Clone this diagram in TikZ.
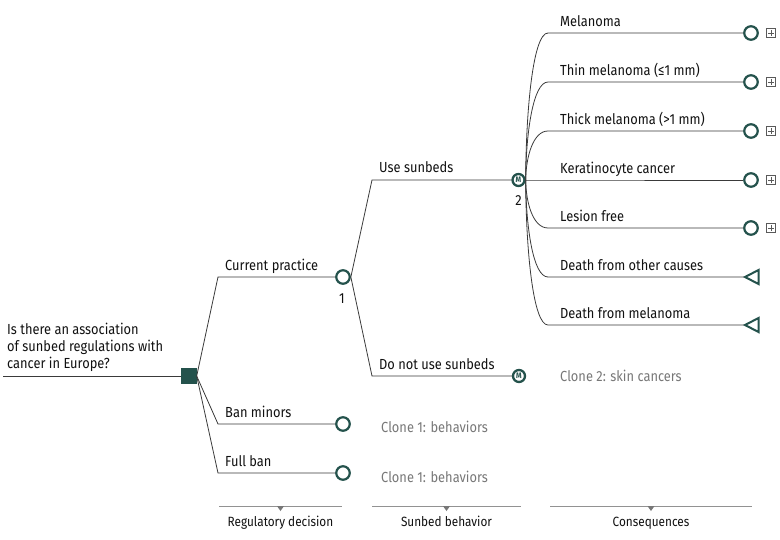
\documentclass[tikz,border=0pt]{standalone}
\usepackage{fontspec}
\setmainfont{Fira Sans}[FakeStretch=0.88]
\usetikzlibrary{calc}
\definecolor{nodeclr}{HTML}{24524C}
\definecolor{lineclr}{HTML}{3A3A3A}
\definecolor{txtclr}{HTML}{111111}
\definecolor{grayclr}{HTML}{777777}
\definecolor{plusclr}{HTML}{5A5A5A}
\begin{document}
\begin{tikzpicture}[x=1pt,y=-1pt,
  conn/.style={draw=lineclr, line width=0.8pt},
  chance/.style={circle, draw=nodeclr, fill=white, line width=2.2pt, minimum size=13.5pt, inner sep=0pt},
  markov/.style={circle, draw=nodeclr, fill=white, line width=2.3pt, minimum size=12pt, inner sep=0pt,
     font=\fontsize{8}{8}\selectfont\bfseries, text=nodeclr},
  decision/.style={rectangle, fill=nodeclr, minimum size=16pt, inner sep=0pt},
  termtri/.style={draw=nodeclr, line width=2pt, line join=miter, fill=white},
  plusbox/.style={draw=plusclr, line width=0.6pt, minimum size=9pt, inner sep=0pt,
     path picture={\draw[plusclr, line width=0.6pt]
       ([yshift=-1.8pt]path picture bounding box.north) -- ([yshift=1.8pt]path picture bounding box.south)
       ([xshift=1.8pt]path picture bounding box.west) -- ([xshift=-1.8pt]path picture bounding box.east);}},
  lbl/.style={anchor=base west, inner sep=0pt, text=txtclr, font=\fontsize{14.6}{17}\selectfont},
  clone/.style={anchor=base west, inner sep=0pt, text=grayclr, font=\fontsize{14.6}{17}\selectfont},
  axis/.style={draw=grayclr!80, line width=0.7pt},
  axtri/.style={fill=grayclr, draw=none},
  axlbl/.style={anchor=base, inner sep=0pt, text=txtclr, font=\fontsize{13.4}{15}\selectfont}
]
\useasboundingbox (0,0) rectangle (780,539);

% ---- root ----
\coordinate (r0) at (3,376);
\node[lbl, align=left] (q) at (7,368) {Is there an association\\of sunbed regulations with\\cancer in Europe?};
\draw[conn] (r0) -- (188,376);
\node[decision] (dec) at (188.5,376) {};

% ---- regulatory branches ----
\coordinate (b1) at (218,277);
\coordinate (b2) at (218,424);
\coordinate (b3) at (218,473);
\node[chance] (c1) at (343,277) {};
\node[chance] (cbm) at (343,424) {};
\node[chance] (cfb) at (343,473) {};
\draw[conn] (dec.east) -- (b1) -- (c1.west);
\draw[conn] (dec.east) -- (b2) -- (cbm.west);
\draw[conn] (dec.east) -- (b3) -- (cfb.west);
\node[lbl] (lcp) at (225,270) {Current practice};
\node[lbl] (lbm) at (225,417) {Ban minors};
\node[lbl] (lfb) at (225,466) {Full ban};
\node[lbl, anchor=base] (n1) at (342,303) {1};
\node[clone] (cl1) at (381,432) {Clone 1: behaviors};
\node[clone] (cl2) at (381,482) {Clone 1: behaviors};

% ---- sunbed behaviour ----
\coordinate (u1) at (372,180);
\coordinate (u2) at (372,376);
\node[markov] (m2) at (518.5,180) {M};
\node[markov] (m3) at (519,376) {M};
\draw[conn] (c1.east) -- (u1) -- (m2.west);
\draw[conn] (c1.east) -- (u2) -- (m3.west);
\node[lbl] (lus) at (379,172) {Use sunbeds};
\node[lbl] (lnu) at (379,369) {Do not use sunbeds};
\node[lbl, anchor=base] (n2) at (518.5,205) {2};
\node[clone] (cl3) at (560,381) {Clone 2: skin cancers};

% ---- consequences ----
\foreach \i/\y in {1/33,2/82,3/131,4/180,5/228,6/277,7/325}{
  \coordinate (k\i) at (548,\y);
}
\foreach \i/\y in {1/33,2/82,3/131,4/180,5/228}{
  \node[chance] (e\i) at (751,\y) {};
  \node[plusbox] (p\i) at (771,\y) {};
}
\coordinate (t6) at (745,277);
\coordinate (t7) at (745,325);

\draw[conn] (m2.east) .. controls (526,110) and (533,33) .. (k1) -- (e1.west);
\draw[conn] (m2.east) .. controls (526,133) and (533,82) .. (k2) -- (e2.west);
\draw[conn] (m2.east) .. controls (526,157) and (533,131) .. (k3) -- (e3.west);
\draw[conn] (m2.east) -- (k4) -- (e4.west);
\draw[conn] (m2.east) .. controls (526,203) and (533,228) .. (k5) -- (e5.west);
\draw[conn] (m2.east) .. controls (526,227) and (533,277) .. (k6) -- (t6);
\draw[conn] (m2.east) .. controls (526,250) and (533,325) .. (k7) -- (t7);
\draw[termtri] (t6) -- ++(13.5,-7) -- ++(0,14) -- cycle;
\draw[termtri] (t7) -- ++(13.5,-7) -- ++(0,14) -- cycle;

\node[lbl] (l1) at (560,26) {Melanoma};
\node[lbl] (l2) at (560,75) {Thin melanoma (≤1 mm)};
\node[lbl] (l3) at (560,124) {Thick melanoma (>1 mm)};
\node[lbl] (l4) at (560,173) {Keratinocyte cancer};
\node[lbl] (l5) at (560,221) {Lesion free};
\node[lbl] (l6) at (560,270) {Death from other causes};
\node[lbl] (l7) at (560,318) {Death from melanoma};

% ---- stage axis ----
\coordinate (a1l) at (219,506); \coordinate (a1r) at (342,506);
\coordinate (a2l) at (372,506); \coordinate (a2r) at (521,506);
\coordinate (a3l) at (550,506); \coordinate (a3r) at (752,506);
\draw[axis] (a1l) -- (a1r);
\draw[axis] (a2l) -- (a2r);
\draw[axis] (a3l) -- (a3r);
\foreach \x in {280.5,446.5,651}{
  \fill[axtri] (\x-3.5,506) -- (\x+3.5,506) -- (\x,511) -- cycle;
}
\node[axlbl] (s1) at (280.5,526) {Regulatory decision};
\node[axlbl] (s2) at (446.5,526) {Sunbed behavior};
\node[axlbl] (s3) at (651,526) {Consequences};
\end{tikzpicture}
\end{document}
